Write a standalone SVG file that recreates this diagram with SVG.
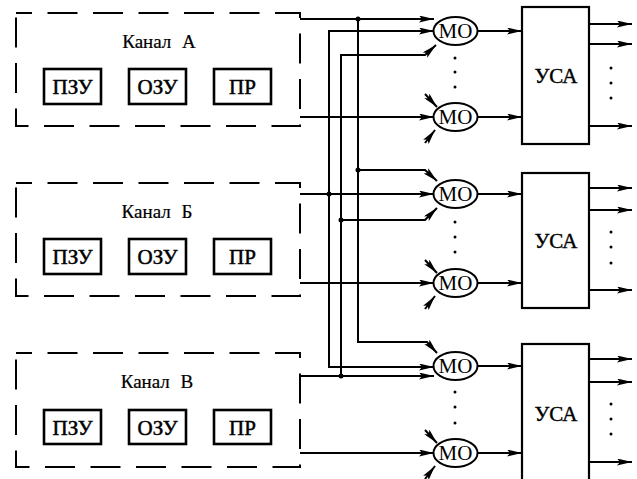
<svg xmlns="http://www.w3.org/2000/svg" width="637" height="479" viewBox="0 0 637 479">
<style>
  .ch { fill: none; stroke: #000; stroke-width: 2; stroke-dasharray: 30 15.5; stroke-dashoffset: 14; }
  .blk { fill: #fff; stroke: #000; stroke-width: 2.6; }
  .usa { fill: #fff; stroke: #000; stroke-width: 2.2; }
  .mo { fill: #fff; stroke: #000; stroke-width: 2; }
  .ar { fill: none; stroke: #000; stroke-width: 2; marker-end: url(#ah); }
  .tx { fill: #000; text-anchor: middle; }
  .lbl { font-size: 19px; word-spacing: 6px; stroke: #000; stroke-width: 0.2px; }
  .bl { font-size: 21px; stroke: #000; stroke-width: 0.5px; }
  .mt { font-size: 21px; }
  .ut { font-size: 21px; stroke: #000; stroke-width: 0.4px; }
  .dot { fill: #000; }
</style>
<defs>
  <marker id="ah" markerUnits="userSpaceOnUse" markerWidth="16" markerHeight="8" refX="15" refY="3.5" orient="auto">
    <path d="M0,0 L15,3.5 L0,7 L3,3.5 z" fill="#000"/>
  </marker>
</defs>
<g font-family="'Liberation Serif', 'Times New Roman', Times, serif">
<g id="channel-A">
  <rect class="ch" x="16" y="13" width="284" height="113"/>
  <text class="tx lbl" x="159" y="48">Канал А</text>
  <rect class="blk" x="44" y="69" width="57" height="35"/>
  <text class="tx bl" x="72.5" y="94">ПЗУ</text>
  <rect class="blk" x="129" y="69" width="57" height="35"/>
  <text class="tx bl" x="157.5" y="94">ОЗУ</text>
  <rect class="blk" x="214" y="69" width="57" height="35"/>
  <text class="tx bl" x="242.5" y="94">ПР</text>
</g>
<g id="channel-B">
  <rect class="ch" x="16" y="183" width="284" height="113"/>
  <text class="tx lbl" x="157" y="218">Канал Б</text>
  <rect class="blk" x="44" y="239" width="57" height="35"/>
  <text class="tx bl" x="72.5" y="264">ПЗУ</text>
  <rect class="blk" x="129" y="239" width="57" height="35"/>
  <text class="tx bl" x="157.5" y="264">ОЗУ</text>
  <rect class="blk" x="214" y="239" width="57" height="35"/>
  <text class="tx bl" x="242.5" y="264">ПР</text>
</g>
<g id="channel-V">
  <rect class="ch" x="16" y="353" width="284" height="114"/>
  <text class="tx lbl" x="157" y="388">Канал В</text>
  <rect class="blk" x="44" y="410" width="57" height="34"/>
  <text class="tx bl" x="72.5" y="434.5">ПЗУ</text>
  <rect class="blk" x="129" y="410" width="57" height="34"/>
  <text class="tx bl" x="157.5" y="434.5">ОЗУ</text>
  <rect class="blk" x="214" y="410" width="57" height="34"/>
  <text class="tx bl" x="242.5" y="434.5">ПР</text>
</g>

<g id="connectors">
  <path class="ar" d="M300,19 H434"/>
  <path class="ar" d="M300,117 H434"/>
  <path class="ar" d="M300,194 H434"/>
  <path class="ar" d="M300,283 H434"/>
  <path class="ar" d="M300,376 H434"/>
  <path class="ar" d="M300,453 H434"/>
  <path class="ar" d="M329,194 V31 H434"/>
  <path class="ar" d="M329,194 V367 H434"/>
  <path class="ar" d="M341,376 V55 H425 L436,45"/>
  <path class="ar" d="M341,220 H425 L437,208"/>
  <path class="ar" d="M358,19 V342 H427 L437,353"/>
  <path class="ar" d="M358,170 H425 L437,181"/>
  <path class="ar" d="M425,94 L437,107"/>
  <path class="ar" d="M425,143 L435,130"/>
  <path class="ar" d="M425,260 L437,273"/>
  <path class="ar" d="M425,309 L435,296"/>
  <path class="ar" d="M425,430 L437,443"/>
  <path class="ar" d="M425,479 L435,466"/>
  <path class="ar" d="M478,31 H522"/>
  <path class="ar" d="M478,117 H522"/>
  <path class="ar" d="M478,194 H522"/>
  <path class="ar" d="M478,283 H522"/>
  <path class="ar" d="M478,366 H522"/>
  <path class="ar" d="M478,453 H522"/>
  <path class="ar" d="M589,24 H632"/>
  <path class="ar" d="M589,44 H632"/>
  <path class="ar" d="M589,126 H632"/>
  <path class="ar" d="M589,188 H632"/>
  <path class="ar" d="M589,210 H632"/>
  <path class="ar" d="M589,290 H632"/>
  <path class="ar" d="M589,359 H632"/>
  <path class="ar" d="M589,382 H632"/>
  <path class="ar" d="M589,462 H632"/>
  <circle class="dot" cx="358" cy="19" r="2.5"/>
  <circle class="dot" cx="358" cy="170" r="2.5"/>
  <circle class="dot" cx="329" cy="194" r="2.5"/>
  <circle class="dot" cx="341" cy="220" r="2.5"/>
  <circle class="dot" cx="341" cy="376" r="2.5"/>
  <g class="dot">
    <circle cx="455" cy="58" r="1.5"/><circle cx="455" cy="72" r="1.5"/><circle cx="455" cy="87" r="1.5"/>
    <circle cx="455" cy="222" r="1.5"/><circle cx="455" cy="237" r="1.5"/><circle cx="455" cy="252" r="1.5"/>
    <circle cx="455" cy="392" r="1.5"/><circle cx="455" cy="407" r="1.5"/><circle cx="455" cy="423" r="1.5"/>
    <circle cx="611" cy="68" r="1.5"/><circle cx="611" cy="83" r="1.5"/><circle cx="611" cy="98" r="1.5"/>
    <circle cx="611" cy="232" r="1.5"/><circle cx="611" cy="247" r="1.5"/><circle cx="611" cy="263" r="1.5"/>
    <circle cx="611" cy="404" r="1.5"/><circle cx="611" cy="419" r="1.5"/><circle cx="611" cy="434" r="1.5"/>
  </g>
</g>

<g id="mo-A1"><ellipse class="mo" cx="455.5" cy="31" rx="22" ry="14"/><text class="tx mt" x="455.5" y="38">МО</text></g>
<g id="mo-A2"><ellipse class="mo" cx="455.5" cy="117" rx="22" ry="14"/><text class="tx mt" x="455.5" y="124">МО</text></g>
<g id="mo-B1"><ellipse class="mo" cx="455.5" cy="194" rx="22" ry="14"/><text class="tx mt" x="455.5" y="201">МО</text></g>
<g id="mo-B2"><ellipse class="mo" cx="455.5" cy="283" rx="22" ry="14"/><text class="tx mt" x="455.5" y="290">МО</text></g>
<g id="mo-V1"><ellipse class="mo" cx="455.5" cy="366" rx="22" ry="14"/><text class="tx mt" x="455.5" y="373">МО</text></g>
<g id="mo-V2"><ellipse class="mo" cx="455.5" cy="453" rx="22" ry="14"/><text class="tx mt" x="455.5" y="460">МО</text></g>

<g id="usa-A"><rect class="usa" x="522" y="7" width="67" height="137"/><text class="tx ut" x="556" y="83">УСА</text></g>
<g id="usa-B"><rect class="usa" x="522" y="173" width="67" height="135"/><text class="tx ut" x="556" y="248">УСА</text></g>
<g id="usa-V"><rect class="usa" x="522" y="344" width="67" height="145"/><text class="tx ut" x="556" y="421">УСА</text></g>
</g>
</svg>
